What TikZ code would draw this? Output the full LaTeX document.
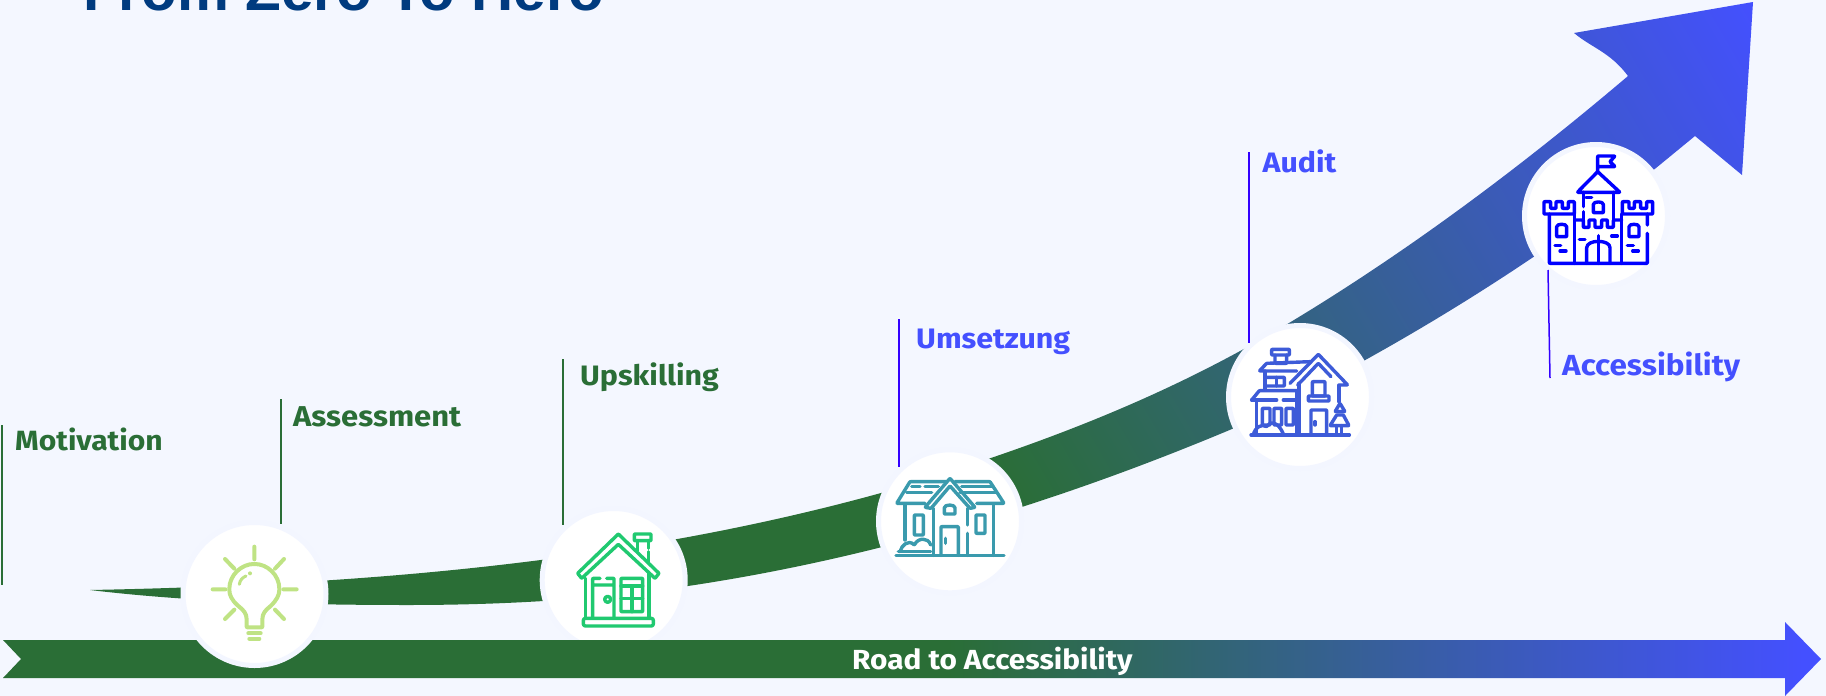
\documentclass[tikz,border=0pt]{standalone}
\usepackage{fontspec}
\setmainfont{Fira Sans}[FakeStretch=1.08]
\newfontfamily\titlefont{Liberation Sans}
\definecolor{bgc}{HTML}{F4F7FF}
\definecolor{ringc}{HTML}{F3F6FF}
\definecolor{gr}{HTML}{2A6E36}
\definecolor{bl}{HTML}{4450FF}
\definecolor{lineb}{HTML}{3300FF}
\definecolor{titlec}{HTML}{003B7F}
\definecolor{ibulb}{HTML}{BFE384}
\definecolor{ihouse}{HTML}{20C970}
\definecolor{iteal}{HTML}{3A9AAD}
\definecolor{iblue}{HTML}{3D5BD8}
\definecolor{icastle}{HTML}{0000FF}
\pgfdeclarehorizontalshading{arrowgrad}{100bp}{color(0bp)=(gr); color(43.7bp)=(gr); color(58.65bp)=(bl); color(100bp)=(bl)}
\pgfdeclarehorizontalshading{bargrad}{100bp}{color(0bp)=(gr); color(51bp)=(gr); color(74.5bp)=(bl); color(100bp)=(bl)}
\tikzset{
  disc/.style={circle,fill=white,draw=ringc,line width=5pt,minimum size=143pt,inner sep=0pt},
  lbl/.style={anchor=base west,inner sep=0pt,font=\fontsize{#1pt}{30pt}\selectfont\bfseries},
  greenlbl/.style={lbl=#1,text=gr},
  bluelbl/.style={lbl=#1,text=bl},
  leadg/.style={draw=gr,line width=1.5pt},
  leadb/.style={draw=lineb,line width=1.5pt},
  icon/.style={line width=3.4pt,line cap=round,line join=round,rounded corners=.6pt},
}
\begin{document}
\begin{tikzpicture}[x=1pt,y=-1pt]
\useasboundingbox (0,0) rectangle (1826,696);
\clip (0,0) rectangle (1826,696);
\fill[bgc] (0,0) rectangle (1826,696);
\node[anchor=base west,inner sep=0pt,text=titlec,font=\titlefont\fontsize{58.4pt}{60pt}\selectfont\bfseries] (title) at (83,10) {From Zero To Hero};
% big arrow
\begin{scope}
\clip (90,590) .. controls (350,585) and (620,565) .. (881,493)
  .. controls (1017,452) and (1153,405) .. (1289,323)
  .. controls (1402,255) and (1515,172) .. (1628,76)
  .. controls (1610,52) and (1592,48) .. (1574,33) -- (1753,2) -- (1742,175) -- (1695,136) -- (1656,168)
  .. controls (1515,278) and (1373,361) .. (1232,429)
  .. controls (1051,505) and (869,559) .. (688,586)
  .. controls (595,600) and (500,605) .. (408,605)
  .. controls (300,605) and (190,602) .. (90,590) -- cycle;
\shade[shading=arrowgrad,transform canvas={rotate=30}] (-500,-2500) rectangle (2500,2500);
\end{scope}
% disc under the bar
\node[disc] (c2) at (613.7,580) {};
% bar
\shade[shading=bargrad] (3,640) -- (1785,640) -- (1785,622) -- (1821,659) -- (1785,696) -- (1785,678) -- (3,678) -- (21,659) -- cycle;
% other discs
\node[disc] (c1) at (254.5,594) {};
\node[disc] (c3) at (950,521.3) {};
\node[disc] (c4) at (1300,397) {};
\node[disc] (c5) at (1596,216) {};
\node[anchor=base west,inner sep=0pt,text=white,font=\fontsize{27.6pt}{30pt}\selectfont\bfseries] (road) at (852,669) {Road to Accessibility};
% leader lines
\coordinate (m1) at (2,425); \coordinate (m2) at (2,585);
\coordinate (a1) at (281,399); \coordinate (a2) at (281,524);
\coordinate (u1) at (563,359); \coordinate (u2) at (563,525);
\coordinate (s1) at (899,319); \coordinate (s2) at (899,467);
\coordinate (d1) at (1249,152); \coordinate (d2) at (1249,343);
\coordinate (x1) at (1548,270); \coordinate (x2) at (1550,378);
\draw[leadg] (m1) -- (m2);
\draw[leadg] (a1) -- (a2);
\draw[leadg] (u1) -- (u2);
\draw[leadb] (s1) -- (s2);
\draw[leadb] (d1) -- (d2);
\draw[leadb] (x1) -- (x2);
% labels
\node[greenlbl=27.85] (tm) at (15,450) {Motivation};
\node[greenlbl=28.7] (ta) at (293,426) {Assessment};
\node[greenlbl=28.1] (tu) at (580,385) {Upskilling};
\node[bluelbl=28.15] (ts) at (916,348) {Umsetzung};
\node[bluelbl=28.1] (td) at (1262.5,172) {Audit};
\node[bluelbl=29.1] (tx) at (1562,375) {Accessibility};
% bulb
\begin{scope}[shift={(180,520)},x=0.33333pt,y=-0.33333pt,icon,draw=ibulb,line width=4pt]
\draw (223,80)--(223,118) (135,117)--(163,146) (312,117)--(285,146) (98,208)--(136,208) (310,208)--(350,208) (135,297)--(163,269) (312,297)--(285,269);
\draw (200,322)--(200,300) .. controls (200,280) and (190,270) .. (175,258) .. controls (155,240) and (148,225) .. (148,208) .. controls (148,165) and (185,132) .. (223,132) .. controls (262,132) and (298,165) .. (298,208) .. controls (298,225) and (290,240) .. (272,258) .. controls (257,270) and (247,280) .. (247,300) -- (247,322) -- cycle;
\draw (205,340)--(242,340) (208,356)--(238,356);
\draw[line width=3pt] (178,193) .. controls (180,180) and (188,172) .. (198,168);
\fill[ibulb] (210,160) circle[radius=2pt];
\end{scope}
% small house
\begin{scope}[shift={(540,510)},x=0.33333pt,y=-0.33333pt,icon,draw=ihouse]
\draw (113,190)--(235,72)--(357,190)--(345,205)--(235,103)--(125,205)--cycle;
\draw (137,205)--(137,322) (327,190)--(327,322);
\draw[rounded corners=2pt] (130,325) rectangle (340,348);
\draw (283,72) rectangle (333,92);
\draw (292,92)--(292,122) (325,92)--(325,115) (325,125)--(325,155);
\draw (158,322)--(158,205)--(180,205) (200,205)--(222,205)--(222,322) (160,225)--(220,225);
\draw (203,268) circle[radius=3pt];
\draw (243,205) rectangle (308,305);
\draw (243,228)--(308,228) (243,265)--(308,265) (276,228)--(276,305);
\end{scope}
% teal house
\begin{scope}[shift={(875,450)},x=0.33333pt,y=-0.33333pt,icon,draw=iteal]
\draw (63,316)--(387,316);
\draw (215,95)--(105,95)--(65,160)--(150,160);
\draw (240,95)--(345,95)--(387,160)--(305,160);
\draw (110,110)--(135,110) (150,110)--(190,110) (95,128)--(170,128) (260,110)--(350,110) (255,128)--(365,128);
\draw (150,172)--(225,85)--(300,172)--(285,175)--(225,108)--(168,175)--cycle;
\draw (175,175)--(175,316) (278,175)--(278,225) (278,250)--(278,316);
\draw (90,165)--(90,270) (355,165)--(355,316);
\draw (118,195) rectangle (145,255);
\draw (303,195) rectangle (330,250);
\draw (208,192)--(208,175) to[out=90,in=90] (240,175)--(240,192)--cycle;
\draw (198,316)--(198,230)--(250,230)--(250,316);
\draw (212,265)--(212,280);
\draw (75,305) .. controls (80,285) and (100,268) .. (118,285) .. controls (130,262) and (160,262) .. (167,285);
\draw (70,305)--(167,305);
\end{scope}
% blue house
\begin{scope}[shift={(1225,320)},x=0.33333pt,y=-0.33333pt,icon,draw=iblue]
\draw (78,345)--(373,345);
\draw (140,88) rectangle (193,105);
\draw (150,105)--(150,130)--(185,130)--(185,105);
\draw (255,125)--(125,130)--(103,153)--(215,153);
\draw (120,153)--(120,207);
\draw (120,172) rectangle (178,198);
\draw (155,172)--(155,198);
\draw (80,240)--(103,212)--(215,212);
\draw (80,240)--(155,240) (175,240)--(215,240);
\draw (215,212)--(215,345);
\draw (195,190)--(280,103)--(368,195)--(345,195) (318,170)--(280,130)--(218,195);
\draw (222,190)--(222,345) (342,195)--(342,245);
\draw (262,185) rectangle (300,228);
\draw (250,228) rectangle (312,243);
\draw (258,345)--(258,270)--(305,270)--(305,345);
\draw (270,305)--(270,315);
\draw (330,275)--(345,250)--(360,275)--cycle;
\draw (315,317)--(372,317)--(355,285)--(335,285)--cycle;
\draw (335,317)--(335,345) (350,317)--(350,345);
\draw (112,265) rectangle (135,315);
\draw (147,265) rectangle (170,315);
\draw (183,265) rectangle (205,315);
\draw (95,240)--(95,345);
\draw (85,345) .. controls (90,320) and (110,312) .. (125,320) .. controls (135,302) and (160,305) .. (175,342);
\end{scope}
% castle
\begin{scope}[shift={(1520,140)},x=0.33333pt,y=-0.33333pt,icon,draw=icastle]
\draw (233,95)--(233,48)--(285,48)--(270,65)--(285,80)--(233,80);
\draw (233,95)--(172,157)--(300,157)--cycle;
\draw (190,157)--(190,200) (190,215)--(190,240) (280,157)--(280,240);
\draw (72,185)--(92,185)--(92,205)--(108,205)--(108,185)--(127,185)--(127,205)--(145,205)--(145,185)--(163,185)--(163,222)--(72,222)--cycle;
\draw (307,185)--(327,185)--(327,205)--(343,205)--(343,185)--(362,185)--(362,205)--(380,205)--(380,185)--(398,185)--(398,222)--(307,222)--cycle;
\draw (88,222)--(88,370)--(382,370)--(382,280) (382,222)--(382,255);
\draw (163,222)--(163,370) (305,222)--(305,370);
\draw (165,240)--(190,240)--(190,262)--(207,262)--(207,240)--(225,240)--(225,262)--(245,262)--(245,240)--(262,240)--(262,262)--(280,262)--(280,240)--(305,240);
\draw (200,370)--(200,325) to[out=90,in=90] (270,325)--(270,370);
\draw (235,287)--(235,370);
\draw (110,290)--(110,262) to[out=90,in=90] (140,262)--(140,290)--cycle;
\draw (327,290)--(327,262) to[out=90,in=90] (357,262)--(357,290)--cycle;
\draw (220,218)--(220,195) to[out=90,in=90] (250,195)--(250,218)--cycle;
\draw (198,172)--(215,172) (178,298)--(195,298) (275,288)--(292,288) (105,317)--(122,317) (120,333)--(138,333) (322,317)--(340,317) (338,333)--(355,333);
\end{scope}
\end{tikzpicture}
\end{document}
